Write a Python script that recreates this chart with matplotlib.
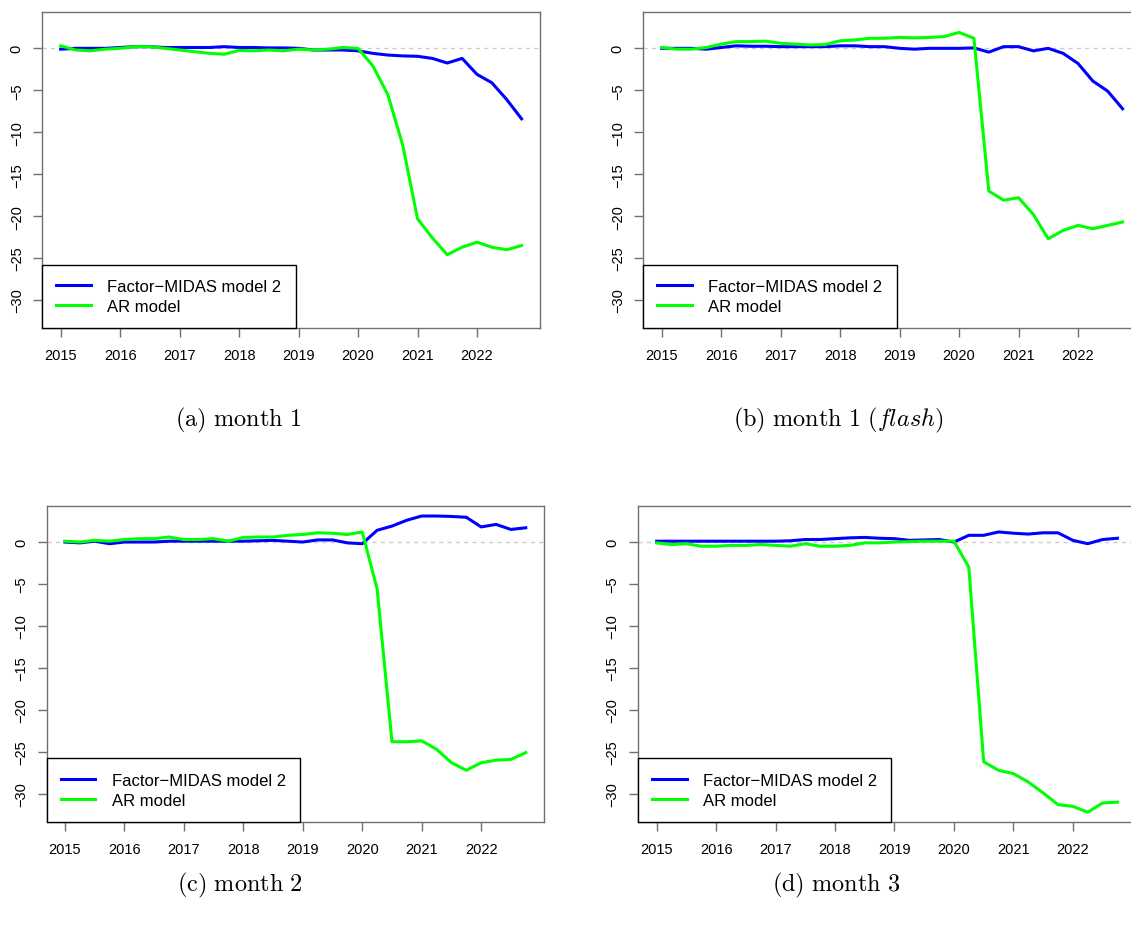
import matplotlib
matplotlib.use("Agg")
import matplotlib.pyplot as plt
import numpy as np

# quarterly dates 2015Q1 .. 2022Q4
years = [2015 + 0.25 * i for i in range(32)]

# (a) month 1
midas_m1 = [-0.1, 0.0, 0.0, 0.0, 0.1, 0.2, 0.2, 0.1, 0.1, 0.1, 0.1, 0.2, 0.1, 0.1, 0.05, 0.05,
            0.0, -0.2, -0.2, -0.2, -0.3, -0.6, -0.8, -0.9, -0.95, -1.2, -1.75, -1.2, -3.1, -4.1, -6.1, -8.4]
ar_m1 = [0.3, -0.2, -0.3, -0.1, 0.0, 0.2, 0.2, 0.0, -0.2, -0.4, -0.6, -0.7, -0.25, -0.3, -0.2, -0.3,
         -0.1, -0.2, -0.1, 0.1, 0.0, -2.1, -5.5, -11.5, -20.3, -22.6, -24.6, -23.7, -23.1, -23.7, -24.0, -23.5]

# (b) month 1 (flash)
midas_m1f = [0.0, 0.0, 0.0, -0.1, 0.1, 0.3, 0.25, 0.25, 0.2, 0.2, 0.2, 0.2, 0.3, 0.3, 0.2, 0.2,
             0.0, -0.1, 0.0, 0.0, 0.0, 0.05, -0.45, 0.2, 0.2, -0.3, 0.0, -0.6, -1.8, -3.9, -5.1, -7.2]
ar_m1f = [0.1, -0.1, -0.1, 0.1, 0.5, 0.8, 0.8, 0.85, 0.6, 0.5, 0.4, 0.45, 0.9, 1.0, 1.2, 1.2,
          1.3, 1.25, 1.3, 1.4, 1.9, 1.2, -17.0, -18.1, -17.8, -19.8, -22.7, -21.7, -21.1, -21.5, -21.1, -20.7]

# (c) month 2
midas_m2 = [0.0, -0.1, 0.1, -0.2, 0.0, 0.0, 0.0, 0.1, 0.1, 0.1, 0.1, 0.1, 0.1, 0.15, 0.2, 0.1,
            0.0, 0.25, 0.25, -0.1, -0.2, 1.4, 1.9, 2.6, 3.1, 3.1, 3.05, 2.95, 1.8, 2.1, 1.5, 1.7]
ar_m2 = [0.1, 0.0, 0.2, 0.1, 0.3, 0.4, 0.4, 0.6, 0.3, 0.3, 0.4, 0.1, 0.55, 0.6, 0.6, 0.8,
         0.9, 1.1, 1.05, 0.9, 1.2, -5.6, -23.8, -23.8, -23.7, -24.7, -26.3, -27.2, -26.3, -26.0, -25.9, -25.1]

# (d) month 3
midas_m3 = [0.1, 0.1, 0.1, 0.1, 0.1, 0.1, 0.1, 0.1, 0.1, 0.15, 0.3, 0.3, 0.4, 0.5, 0.55, 0.45,
            0.4, 0.2, 0.25, 0.3, 0.0, 0.8, 0.8, 1.2, 1.05, 0.95, 1.1, 1.1, 0.2, -0.2, 0.3, 0.45]
ar_m3 = [-0.1, -0.3, -0.2, -0.5, -0.5, -0.4, -0.4, -0.3, -0.4, -0.5, -0.2, -0.5, -0.5, -0.4, -0.1, -0.1,
         0.0, 0.05, 0.1, 0.1, 0.1, -3.0, -26.2, -27.2, -27.6, -28.6, -29.9, -31.3, -31.5, -32.2, -31.1, -31.0]

panels = [
    (midas_m1, ar_m1, r"$\mathrm{(a)\ month\ 1}$"),
    (midas_m1f, ar_m1f, r"$\mathrm{(b)\ month\ 1\ (}\mathit{flash}\mathrm{)}$"),
    (midas_m2, ar_m2, r"$\mathrm{(c)\ month\ 2}$"),
    (midas_m3, ar_m3, r"$\mathrm{(d)\ month\ 3}$"),
]

plt.rcParams["font.family"] = ["Liberation Sans", "DejaVu Sans"]
plt.rcParams["mathtext.fontset"] = "cm"

W, H = 1131, 928
fig = plt.figure(figsize=(W / 100, H / 100), dpi=100)

# axes boxes in pixels: left, top, right, bottom
boxes = [(42.3, 13, 540, 329), (643.3, 13, 1141, 329),
         (46.5, 506.7, 544.2, 822.7), (638.2, 506.7, 1135.9, 822.7)]
captions_xy = [(238, 420), (838, 420), (240, 885), (836, 885)]

boxcol = "#707070"
for (blue, green, cap), (l, t, r, b), (cx, cy) in zip(panels, boxes, captions_xy):
    ax = fig.add_axes([l / W, 1 - b / H, (r - l) / W, (b - t) / H])
    ax.axhline(0, color="#cccccc", lw=1, ls=(0, (3, 3)), zorder=1)
    ax.plot(years, blue, color="#0000FF", lw=2.2, label="Factor\u2212MIDAS model 2", zorder=3)
    ax.plot(years, green, color="#00FF00", lw=2.2, label="AR model", zorder=3)
    ax.set_xlim(2014.69, 2023.06)
    ax.set_ylim(-33.33, 4.33)
    ax.set_xticks(range(2015, 2023))
    ax.set_yticks([0, -5, -10, -15, -20, -25, -30])
    for s in ax.spines.values():
        s.set_color(boxcol)
        s.set_linewidth(1.0)
    ax.tick_params(direction="out", length=6.3, width=1.0, color=boxcol, labelsize=10.5)
    ax.tick_params(axis="x", pad=8)
    ax.tick_params(axis="y", pad=7)
    for lab in ax.get_yticklabels():
        lab.set_rotation(90)
        lab.set_va("center")
    leg = ax.legend(loc="lower left", bbox_to_anchor=(0, 0), borderaxespad=0, fontsize=12,
                    fancybox=False, framealpha=1, edgecolor="black", handlelength=2.05,
                    handletextpad=1.0, borderpad=0.85, labelspacing=0.3)
    leg.get_frame().set_linewidth(1.0)
    leg.set_zorder(5)
    fig.text(cx / W, 1 - cy / H, cap, ha="center", va="center", fontsize=17.5)

plt.savefig("out.png", dpi=100)
